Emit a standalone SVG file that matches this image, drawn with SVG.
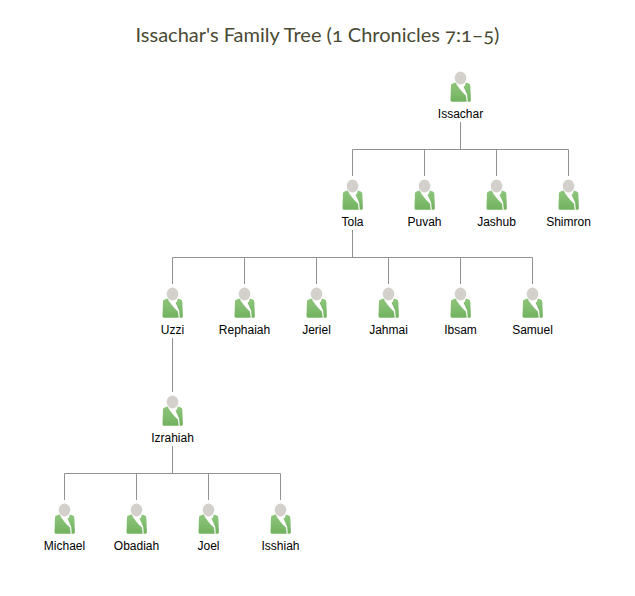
<svg xmlns="http://www.w3.org/2000/svg" width="635" height="596" viewBox="0 0 635 596">
<style>
.t{font-family:"Lato","Open Sans",sans-serif;font-size:20px;fill:#4a4a34;text-anchor:middle;font-variant-numeric:oldstyle-nums;font-feature-settings:"onum"}
.l{font-family:"Liberation Sans",Arial,sans-serif;font-size:12px;fill:#000;text-anchor:middle}
.c{fill:none;stroke:#8f9393;stroke-width:1}
</style>
<defs>
<linearGradient id="g" x1="0" y1="0" x2="0" y2="1"><stop offset="0" stop-color="#8ec67c"/><stop offset="1" stop-color="#72b25f"/></linearGradient>
<g id="p">
<ellipse cx="0" cy="-9" rx="5.800" ry="6.500" fill="#d3d0cb"/>
<path d="M-9.500-1.500Q-9.500-3-8-3.400L-4.800-4.600C-3-.5 1 4.500 5.400 8.500L6.200 14.800H-8C-9.500 14.800-10 14-10 13ZM9.800-1.500Q9.800-3 8.300-3.400L5-4.600C5.200-2.500 4.700-1.200 3-.5C4 2 5.500 5 6.600 7.500L7.300 14.800H8.500C10 14.800 10.400 14 10.400 13Z" fill="url(#g)"/>
</g>
</defs>
<text class="t" x="317.500" y="42">Issachar's Family Tree (1 Chronicles 7:1–5)</text>
<g id="connectors">
<path class="c" d="M460.500 122V149.500M352.500 176V149.500H568.500V176M424.500 149.500V176M496.500 149.500V176"/>
<path class="c" d="M352.500 230V257.500M172.500 284V257.500H532.500V284M244.500 257.500V284M316.500 257.500V284M388.500 257.500V284M460.500 257.500V284"/>
<path class="c" d="M172.500 338V392"/>
<path class="c" d="M172.500 446V473.500M64.500 500V473.500H280.500V500M136.500 473.500V500M208.500 473.500V500"/>
</g>
<g id="issachar"><use href="#p" x="460.500" y="87"/><text class="l" x="460.500" y="118">Issachar</text></g>
<g id="tola"><use href="#p" x="352.500" y="195"/><text class="l" x="352.500" y="226">Tola</text></g>
<g id="puvah"><use href="#p" x="424.500" y="195"/><text class="l" x="424.500" y="226">Puvah</text></g>
<g id="jashub"><use href="#p" x="496.500" y="195"/><text class="l" x="496.500" y="226">Jashub</text></g>
<g id="shimron"><use href="#p" x="568.500" y="195"/><text class="l" x="568.500" y="226">Shimron</text></g>
<g id="uzzi"><use href="#p" x="172.500" y="303"/><text class="l" x="172.500" y="334">Uzzi</text></g>
<g id="rephaiah"><use href="#p" x="244.500" y="303"/><text class="l" x="244.500" y="334">Rephaiah</text></g>
<g id="jeriel"><use href="#p" x="316.500" y="303"/><text class="l" x="316.500" y="334">Jeriel</text></g>
<g id="jahmai"><use href="#p" x="388.500" y="303"/><text class="l" x="388.500" y="334">Jahmai</text></g>
<g id="ibsam"><use href="#p" x="460.500" y="303"/><text class="l" x="460.500" y="334">Ibsam</text></g>
<g id="samuel"><use href="#p" x="532.500" y="303"/><text class="l" x="532.500" y="334">Samuel</text></g>
<g id="izrahiah"><use href="#p" x="172.500" y="411"/><text class="l" x="172.500" y="442">Izrahiah</text></g>
<g id="michael"><use href="#p" x="64.500" y="519"/><text class="l" x="64.500" y="550">Michael</text></g>
<g id="obadiah"><use href="#p" x="136.500" y="519"/><text class="l" x="136.500" y="550">Obadiah</text></g>
<g id="joel"><use href="#p" x="208.500" y="519"/><text class="l" x="208.500" y="550">Joel</text></g>
<g id="isshiah"><use href="#p" x="280.500" y="519"/><text class="l" x="280.500" y="550">Isshiah</text></g>
</svg>
